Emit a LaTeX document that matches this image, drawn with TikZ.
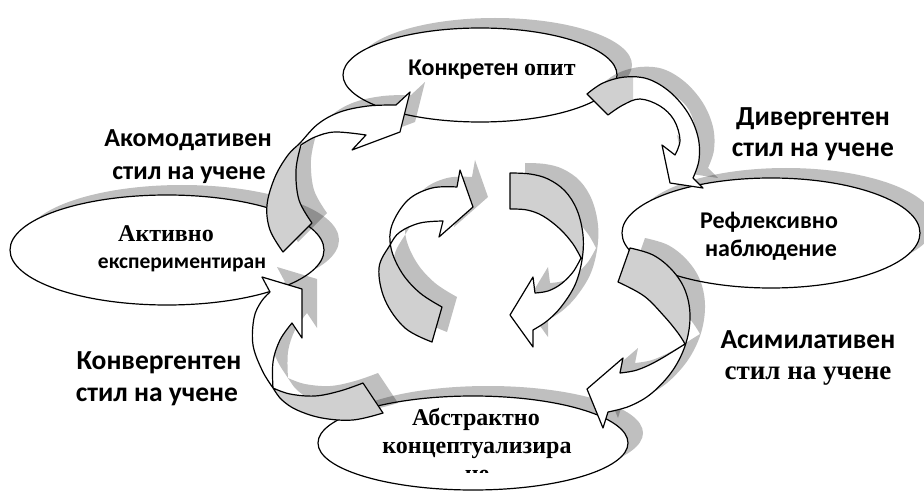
\documentclass[tikz,border=0pt]{standalone}
\usepackage{fontspec}
\usetikzlibrary{shapes.geometric}
\newfontfamily\carl{Carlito}
\newfontfamily\tnr{Liberation Serif}
\definecolor{backgrey}{HTML}{D0D0D0}
\tikzset{
  ellbox/.style={ellipse, draw=black, line width=1.2pt, fill=white, inner sep=0pt},
  ellshade/.style={ellipse, fill=black, fill opacity=0.25, draw=none, inner sep=0pt},
  arrshade/.style={fill=black, fill opacity=0.25},
  arrline/.style={draw=black, line width=1.2pt, line join=round},
  sanstxt/.style={font=\carl\bfseries\fontsize{24}{28}\selectfont, anchor=base, inner sep=0pt},
  seriftxt/.style={font=\tnr\bfseries\fontsize{24}{28}\selectfont, anchor=base, inner sep=0pt},
  sanslbl/.style={font=\carl\bfseries\fontsize{27.5}{32}\selectfont, anchor=base, inner sep=0pt},
  seriflbl/.style={font=\tnr\bfseries\fontsize{27}{32}\selectfont, anchor=base, inner sep=0pt},
  smalllbl/.style={font=\carl\bfseries\fontsize{26}{30}\selectfont, anchor=base, inner sep=0pt},
}
% curved block arrows (y-down pixel coordinates)
\def\ArrA{plot[smooth,tension=0.6] coordinates {(283,252) (270,230) (267,205) (275,177) (288,155) (300,143) (318,124) (340,112) (368,106) (396,105)}
 -- (410,92) -- (400,132) -- (352,150) -- (366,135)
 -- plot[smooth,tension=0.6] coordinates {(366,135) (335,132) (315,137) (301,145)}
 -- plot[smooth,tension=0.6] coordinates {(301,145) (296,170) (299,200) (312,223)} -- cycle}
\def\ArrB{plot[smooth,tension=0.6] coordinates {(587,94) (603,83) (625,77) (648,79) (670,92) (688,113) (698,137) (699,160) (693,178)}
 -- (703,188) -- (670,183) -- (662,145) -- (675,155)
 -- plot[smooth,tension=0.6] coordinates {(675,155) (680,140) (674,120) (660,106) (640,99) (623,105) (608,115)} -- cycle}
\def\ArrC{plot[smooth,tension=0.6] coordinates {(630,248) (653,255) (672,270) (685,290) (690,315) (686,343) (673,370) (652,393) (630,406) (608,412)}
 -- (603,428) -- (587,389) -- (623,358) -- (620,373)
 -- plot[smooth,tension=0.6] coordinates {(620,373) (637,370) (657,361) (685,344)}
 -- plot[smooth,tension=0.6] coordinates {(685,344) (678,333) (664,316) (644,296) (618,282)} -- cycle}
\def\ArrD{plot[smooth,tension=0.6] coordinates {(383,413) (353,420) (322,418) (297,410) (282,400) (273,388) (262,370) (253,345) (254,318) (261,302) (270,292)}
 -- (262,277) -- (302,289) -- (302,338) -- (292,323)
 -- plot[smooth,tension=0.6] coordinates {(292,323) (280,340) (273,362) (273,388)}
 -- plot[smooth,tension=0.6] coordinates {(273,388) (290,394) (315,396) (340,391) (363,383)} -- cycle}
\def\ArrE{plot[smooth,tension=0.6] coordinates {(442,307) (420,293) (402,273) (391,248) (392,225) (408,200) (432,188) (457,187)}
 -- (460,170) -- (473,207) -- (439,237) -- (443,221)
 -- plot[smooth,tension=0.6] coordinates {(443,221) (420,223) (400,232) (390,245) (379,268) (385,300) (405,328) (432,342)} -- cycle}
\def\ArrF{plot[smooth,tension=0.6] coordinates {(510,173) (530,174) (548,179) (565,191) (577,210) (583,235) (582,260) (575,285) (561,307) (547,321) (533,330)}
 -- (533,347) -- (510,315) -- (533,277) -- (535,293)
 -- plot[smooth,tension=0.6] coordinates {(535,293) (548,291) (561,284) (573,272) (581,258)}
 -- plot[smooth,tension=0.6] coordinates {(581,258) (573,244) (560,229) (543,216) (527,210) (510,209)} -- cycle}
\begin{document}
\begin{tikzpicture}[x=1pt,y=-1pt]
\useasboundingbox (0,0) rectangle (924,492);
% ellipse shadows
\node[ellshade, minimum width=274pt, minimum height=94pt] (concsh) at (495,65) {};
\node[ellshade, minimum width=314pt, minimum height=110pt] (actsh) at (182,240) {};
\node[ellshade, minimum width=298pt, minimum height=110pt] (refsh) at (786,223) {};
\node[ellshade, minimum width=310pt, minimum height=94pt] (abssh) at (488,433) {};
% ellipses
\node[ellbox, minimum width=274pt, minimum height=94pt] (conc) at (480,75) {};
\node[ellbox, minimum width=314pt, minimum height=110pt] (act) at (167,250) {};
\node[ellbox, minimum width=298pt, minimum height=110pt] (ref) at (771,233) {};
\node[ellbox, minimum width=310pt, minimum height=94pt] (abs) at (473,443) {};
% arrow shadows
\foreach \a in {\ArrA,\ArrB,\ArrC,\ArrD,\ArrE,\ArrF}{\fill[arrshade, shift={(15,-10)}] \a;}
% arrows
\fill[white] \ArrA; \begin{scope}\clip (240,143) rectangle (330,270); \fill[backgrey] \ArrA; \end{scope} \draw[arrline] \ArrA;
\fill[white] \ArrB; \begin{scope}\clip (570,60) rectangle (633,130); \fill[backgrey] \ArrB; \end{scope} \draw[arrline] \ArrB;
\fill[white] \ArrC; \begin{scope}\clip (600,235) rectangle (720,344); \fill[backgrey] \ArrC; \end{scope} \draw[arrline] \ArrC;
\fill[white] \ArrD; \begin{scope}\clip (274,378) rectangle (400,430); \fill[backgrey] \ArrD; \end{scope} \draw[arrline] \ArrD;
\fill[white] \ArrE; \begin{scope}\clip (360,247) rectangle (470,360); \fill[backgrey] \ArrE; \end{scope} \draw[arrline] \ArrE;
\fill[white] \ArrF; \begin{scope}\clip (500,160) rectangle (600,258); \fill[backgrey] \ArrF; \end{scope} \draw[arrline] \ArrF;
% ellipse texts
\node[sanstxt] (conct) at (492,76) {Конкретен {\tnr опит}};
\node[seriftxt] (acta) at (166,241) {Активно};
\node[sanstxt, font=\carl\bfseries\fontsize{21.5}{26}\selectfont] (actb) at (182,268) {експериментиран};
\node[sanstxt] (refa) at (769,228) {Рефлексивно};
\node[sanstxt] (refb) at (771,256) {наблюдение};
\node[seriftxt] (absa) at (476,425) {Абстрактно};
\node[seriftxt] (absb) at (477,453) {концептуализира};
\begin{scope}\clip (440,460) rectangle (520,472); \node[seriftxt] (absc) at (477,481) {не}; \end{scope}
% style labels
\node[smalllbl] (acca) at (188,147) {Акомодативен};
\node[smalllbl] (accb) at (189,179) {стил на учене};
\node[sanslbl] (diva) at (813,126) {Дивергентен};
\node[sanslbl] (divb) at (813,157) {стил на учене};
\node[sanslbl] (cona) at (159,369) {Конвергентен};
\node[sanslbl] (conb) at (157,401) {стил на учене};
\node[sanslbl] (asia) at (808,348) {Асимилативен};
\node[seriflbl] (asib) at (808,379) {стил на учене};
\end{tikzpicture}
\end{document}
